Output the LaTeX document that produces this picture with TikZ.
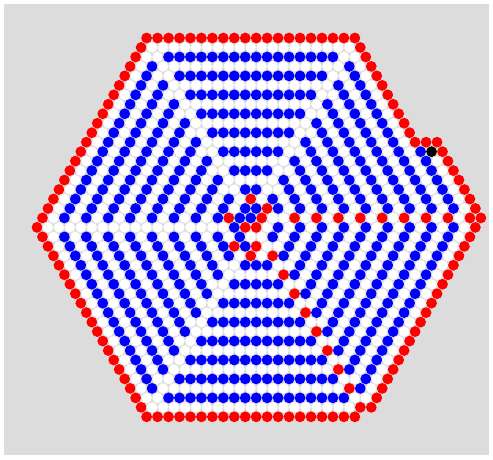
\documentclass[tikz,border=0pt]{standalone}
\definecolor{bggray}{HTML}{DCDCDC}
\definecolor{cred}{HTML}{FF0000}
\definecolor{cblue}{HTML}{0000FF}
\tikzset{
  wcell/.style={fill=white, draw=black!12, line width=0.35pt},
  rcell/.style={fill=cred},
  bcell/.style={fill=cblue},
  kcell/.style={fill=black},
}
\newcount\mm \newcount\rr \newcount\kk \newcount\kA \newcount\cc \newcount\ties \newcount\sc
\newif\ifcorner \newif\ifredray
\def\setov#1#2#3{\expandafter\gdef\csname ov@#1@#2\endcsname{#3}}
\def\checktie#1{\ifnum\numexpr#1\relax=\kk \advance\ties by 1 \fi}
\def\trymin#1{\kA=\numexpr#1\relax \ifnum\kA<\kk \kk=\kA \fi}
\def\normalcol{%
  \ifodd\kk
    \cc=1 \ifcorner\ifredray\cc=3 \fi\fi
  \else
    \ifcorner\cc=1 \else\cc=2 \fi
  \fi}
\def\computecell{%
  \cc=0 \cornerfalse \redrayfalse \sc=0
  \ifcsname ov@\the\mm @\the\rr\endcsname
    \cc=\csname ov@\the\mm @\the\rr\endcsname\relax
  \else
    \ifnum\rr<19 \ifnum\numexpr\mm+\rr\relax>58 \sc=1 \fi\fi
    \ifnum\rr=19 \ifnum\mm>39 \sc=2 \fi\fi
    \ifcase\sc
      \kk=\rr
      \trymin{40-\rr}\trymin{(\mm+\rr-20)/2}\trymin{(\mm-\rr+20)/2}\trymin{(100-\mm-\rr)/2}%
      \ties=0
      \checktie{\rr}\checktie{40-\rr}\checktie{(\mm+\rr-20)/2}\checktie{(\mm-\rr+20)/2}\checktie{(100-\mm-\rr)/2}%
      \ifnum\ties>1 \cornertrue\fi
      \ifnum\rr<19 \ifnum\numexpr\mm+\rr\relax=58 \cornertrue\fi\fi
      \ifnum\rr>20 \ifnum\numexpr\mm-\rr\relax=20 \redraytrue\fi\fi
      \ifnum\kk<0 \cc=0 \else\ifnum\kk=0 \cc=3 \else\normalcol\fi\fi
    \or
      \kk=\numexpr(62-\mm+\rr)/2\relax
      \ifnum\rr<12
        \ifnum\kk<2 \cc=0 \else\ifnum\kk=2 \cc=3 \else\normalcol\fi\fi
      \else
        \ifnum\kk<0 \cc=0 \else\ifnum\kk=0 \cc=3 \else\ifnum\kk=1 \cc=1 \else\normalcol\fi\fi\fi
      \fi
    \or
      \kk=\numexpr(81-\mm)/2\relax
      \cornertrue\redraytrue
      \ifnum\kk<0 \cc=0 \else\ifnum\kk=0 \cc=3 \else\normalcol\fi\fi
    \fi
  \fi}
% overrides: 0 none, 1 white, 2 blue, 3 red, 4 black
\setov{60}{40}{0}
\setov{72}{12}{4}
\setov{71}{11}{3}
\setov{73}{11}{3}
\setov{39}{17}{3}\setov{42}{18}{3}\setov{35}{19}{3}\setov{41}{19}{3}
\setov{38}{20}{3}\setov{40}{20}{3}\setov{36}{22}{3}\setov{40}{22}{3}
\setov{39}{23}{3}\setov{43}{23}{3}
\setov{40}{18}{2}\setov{38}{18}{2}\setov{37}{19}{2}\setov{39}{19}{2}
\setov{36}{20}{2}\setov{37}{21}{2}\setov{34}{22}{2}\setov{38}{22}{2}
\setov{43}{19}{1}\setov{41}{21}{1}
\begin{document}
\begin{tikzpicture}[x=1pt,y=-1pt]
\useasboundingbox (0,0) rectangle (493,459);
\fill[white] (0,0) rectangle (493,459);
\fill[bggray] (4,4) rectangle (489,455);
\foreach \ri in {0,...,40}{%
  \foreach \mi in {0,...,84}{%
    \ifodd\numexpr\mi+\ri\relax\else
      \mm=\mi \rr=\ri \computecell
      \ifcase\cc
      \or \path[wcell] ({37+5.48*\mi},{38+9.47*\ri}) circle (5.45);
      \or \path[bcell] ({37+5.48*\mi},{38+9.47*\ri}) circle (5.4);
      \or \path[rcell] ({37+5.48*\mi},{38+9.47*\ri}) circle (5.4);
      \or \path[kcell] ({37+5.48*\mi},{38+9.47*\ri}) circle (5.4);
      \fi
    \fi
  }%
}
\end{tikzpicture}
\end{document}
